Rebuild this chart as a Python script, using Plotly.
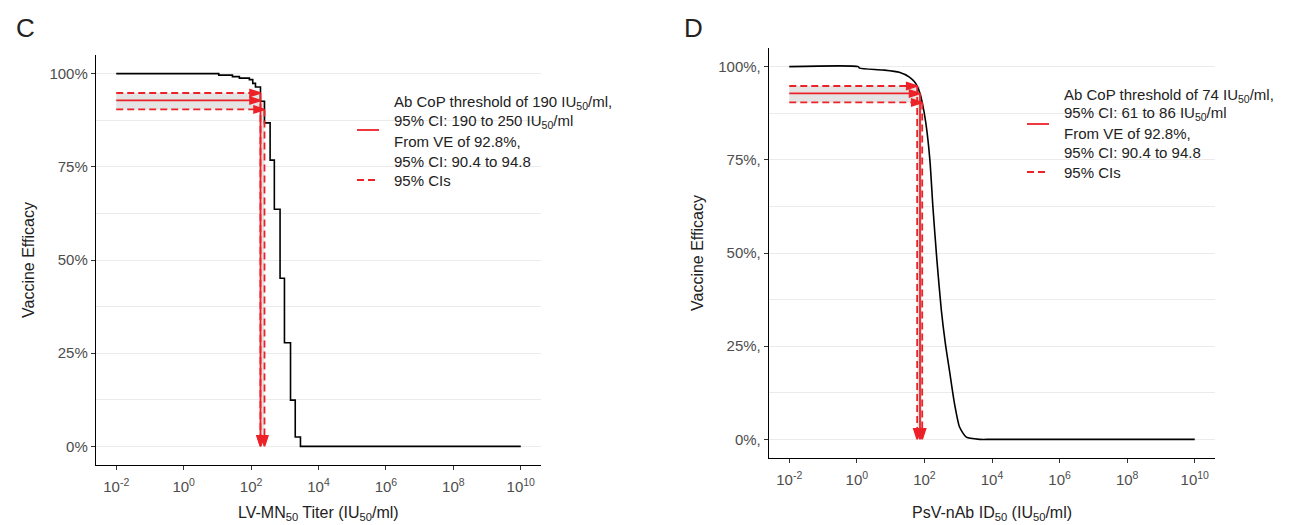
import plotly.graph_objects as go

W, H = 1290, 525
RED = '#EC2228'
GRID = '#EBEBEB'
BAND = '#E4E4E4'
TICK_COL = '#4D4D4D'
TXT_COL = '#222222'
FONT = 'Liberation Sans, Arial, sans-serif'

# ---------------- data ----------------
# Panel C: LV-MN50 titer (IU50/ml) vs vaccine efficacy (%), step curve
c_titer = [0.01, 11, 28, 45, 89, 112, 135, 190, 250, 367, 490, 724, 977, 1479, 2042, 2917, 1e10]
c_ve = [100, 99.6, 99.2, 98.8, 98.4, 97.4, 96.4, 92.6, 86.8, 76.8, 63.6, 45.1, 27.8, 12.4, 2.5, 0, 0]
c_thr, c_thr_lo, c_thr_hi = 190, 190, 250

# Panel D: PsV-nAb ID50 (IU50/ml) vs vaccine efficacy (%), smooth curve
d_titer = [0.01, 1.1, 1.2, 5.8, 18, 36, 50, 61, 74, 86, 110, 145, 178, 234, 316, 417, 550,
           776, 1096, 1738, 4266, 1e4, 1e10]
d_ve = [100, 100, 99.6, 99.1, 98.5, 97.2, 96.0, 94.8, 92.8, 90.4, 84.9, 75.0, 62.4, 48.1, 34.7,
        25.7, 18.5, 9.6, 3.3, 0.6, 0.0, 0.0, 0.0]
d_thr, d_thr_lo, d_thr_hi = 74, 61, 86

ve_est, ve_lo, ve_hi = 92.8, 90.4, 94.8

x_tick_vals = [1e-2, 1e0, 1e2, 1e4, 1e6, 1e8, 1e10]
x_tick_text = ['10<sup>-2</sup>', '10<sup>0</sup>', '10<sup>2</sup>', '10<sup>4</sup>',
               '10<sup>6</sup>', '10<sup>8</sup>', '10<sup>10</sup>']
y_tick_vals = [0, 25, 50, 75, 100]
c_y_text = ['0%', '25%', '50%', '75%', '100%']
d_y_text = ['0%,', '25%,', '50%,', '75%,', '100%,']
y_minor_vals = [12.5, 37.5, 62.5, 87.5]

c_legend = ['Ab CoP threshold of 190 IU<sub>50</sub>/ml,',
            '95% CI: 190 to 250 IU<sub>50</sub>/ml',
            'From VE of 92.8%,',
            '95% CI: 90.4 to 94.8',
            '95% CIs']
d_legend = ['Ab CoP threshold of 74 IU<sub>50</sub>/ml,',
            '95% CI: 61 to 86 IU<sub>50</sub>/ml',
            'From VE of 92.8%,',
            '95% CI: 90.4 to 94.8',
            '95% CIs']

# ---------------- figure ----------------
fig = go.Figure()

def px_x(p):
    return p / W

def px_y(p):
    return 1 - p / H

panels = {
    'C': dict(xa='x', ya='y', xd=[96, 541], yd=[55, 465]),
    'D': dict(xa='x2', ya='y2', xd=[769, 1215], yd=[48, 458]),
}

DASH = '7px,4px'

def arrow(x0, y0, x1, y1, dash, xa, ya):
    fig.add_trace(go.Scatter(
        x=[x0, x1], y=[y0, y1], mode='lines+markers',
        line=dict(color=RED, width=1.8, dash=dash),
        marker=dict(symbol='arrow', size=11, angleref='previous', color=RED,
                    opacity=[0, 1], line=dict(width=1.6, color=RED)),
        xaxis=xa, yaxis=ya, showlegend=False, hoverinfo='skip'))

for key, titer, ve, thr, thr_lo, thr_hi, shape in [
        ('C', c_titer, c_ve, c_thr, c_thr_lo, c_thr_hi, 'hv'),
        ('D', d_titer, d_ve, d_thr, d_thr_lo, d_thr_hi, 'spline')]:
    p = panels[key]
    xa, ya = p['xa'], p['ya']
    fig.add_trace(go.Scatter(x=titer, y=ve, mode='lines',
                             line=dict(color='black', width=1.6, shape=shape, smoothing=0.6),
                             xaxis=xa, yaxis=ya, showlegend=False, hoverinfo='skip'))
    x_start = titer[0]
    # horizontal arrows (VE -> titer)
    arrow(x_start, ve_est, thr, ve_est, 'solid', xa, ya)
    arrow(x_start, ve_hi, thr_lo, ve_hi, DASH, xa, ya)
    arrow(x_start, ve_lo, thr_hi, ve_lo, DASH, xa, ya)
    # vertical arrows (titer -> axis)
    arrow(thr_lo, ve_hi, thr_lo, 0, DASH, xa, ya)
    arrow(thr_hi, ve_lo, thr_hi, 0, DASH, xa, ya)
    arrow(thr, ve_est, thr, 0, 'solid', xa, ya)

    # grey CI bands (data values on the log axis)
    fig.add_shape(type='rect', xref=xa, yref=ya, layer='between',
                  x0=x_start, x1=thr, y0=ve_lo, y1=ve_hi,
                  fillcolor=BAND, line=dict(width=0))
    fig.add_shape(type='rect', xref=xa, yref=ya, layer='between',
                  x0=thr_lo, x1=thr_hi, y0=0, y1=ve_est,
                  fillcolor=BAND, line=dict(width=0))

# white legend backgrounds (covering gridlines inside the panel)
fig.add_shape(type='rect', xref='paper', yref='paper', layer='between',
              x0=px_x(329), x1=px_x(541), y0=px_y(192), y1=px_y(55),
              fillcolor='white', line=dict(width=0))
fig.add_shape(type='rect', xref='paper', yref='paper', layer='between',
              x0=px_x(1000), x1=px_x(1215), y0=px_y(185), y1=px_y(48),
              fillcolor='white', line=dict(width=0))

# manual legends
def legend(texts, x_key0, x_key1, x_text, line_ys, solid_y, dash_y):
    for t, yy in zip(texts, line_ys):
        fig.add_annotation(text=t, xref='paper', yref='paper', x=px_x(x_text), y=px_y(yy),
                           xanchor='left', yanchor='middle', showarrow=False,
                           font=dict(family=FONT, size=15, color=TXT_COL))
    fig.add_shape(type='line', xref='paper', yref='paper', x0=px_x(x_key0), x1=px_x(x_key1),
                  y0=px_y(solid_y), y1=px_y(solid_y), line=dict(color=RED, width=1.8))
    fig.add_shape(type='line', xref='paper', yref='paper', x0=px_x(x_key0), x1=px_x(x_key1),
                  y0=px_y(dash_y), y1=px_y(dash_y), line=dict(color=RED, width=1.8, dash=DASH))

legend(c_legend, 357, 379, 392, [102, 121, 141, 161, 180], 130, 180)
legend(d_legend, 1027, 1049, 1062, [95, 114, 133, 153, 172], 124, 172)

axis_common = dict(showline=True, linecolor='black', linewidth=1.4, ticks='outside',
                   ticklen=4, tickwidth=1.2, tickcolor='#333333', zeroline=False,
                   tickfont=dict(family=FONT, size=15, color=TICK_COL))

for key, ytext in [('C', c_y_text), ('D', d_y_text)]:
    p = panels[key]
    sfx = '' if p['xa'] == 'x' else '2'
    fig.update_layout(**{
        'xaxis' + sfx: dict(axis_common, type='log', range=[-2.6, 10.6],
                            domain=[px_x(p['xd'][0]), px_x(p['xd'][1])],
                            anchor='y' + sfx, tickvals=x_tick_vals, ticktext=x_tick_text,
                            showgrid=False, ticklabelstandoff=4),
        'yaxis' + sfx: dict(axis_common, range=[-5, 105],
                            domain=[px_y(p['yd'][1]), px_y(p['yd'][0])],
                            anchor='x' + sfx, tickvals=y_tick_vals, ticktext=ytext,
                            showgrid=True, gridcolor=GRID, gridwidth=1.3,
                            minor=dict(tickvals=y_minor_vals, showgrid=True,
                                       gridcolor=GRID, gridwidth=1.3, ticks='')),
    })

# panel letters and axis titles
for txt, x, y in [('C', 25, 28), ('D', 693, 28)]:
    fig.add_annotation(text=txt, xref='paper', yref='paper', x=px_x(x), y=px_y(y),
                       xanchor='center', yanchor='middle', showarrow=False,
                       font=dict(family=FONT, size=26, color=TXT_COL))
for txt, x, y in [('LV-MN<sub>50</sub> Titer (IU<sub>50</sub>/ml)', 318, 513),
                  ('PsV-nAb ID<sub>50</sub> (IU<sub>50</sub>/ml)', 992, 513)]:
    fig.add_annotation(text=txt, xref='paper', yref='paper', x=px_x(x), y=px_y(y),
                       xanchor='center', yanchor='middle', showarrow=False,
                       font=dict(family=FONT, size=16, color=TXT_COL))
for x, y in [(28, 260), (698, 253)]:
    fig.add_annotation(text='Vaccine Efficacy', xref='paper', yref='paper', x=px_x(x), y=px_y(y),
                       xanchor='center', yanchor='middle', showarrow=False, textangle=-90,
                       font=dict(family=FONT, size=16, color=TXT_COL))

fig.update_layout(width=W, height=H, margin=dict(l=0, r=0, t=0, b=0),
                  plot_bgcolor='white', paper_bgcolor='white', showlegend=False)

fig.write_html('out.html')
